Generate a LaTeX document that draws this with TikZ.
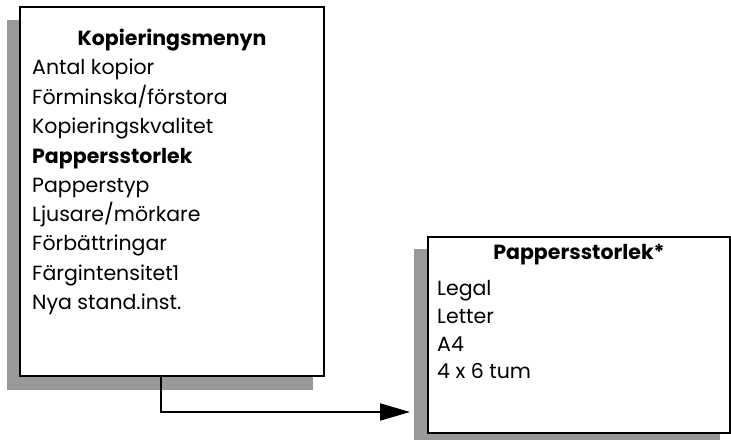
\documentclass[tikz,border=0pt]{standalone}
\usepackage{fontspec}
\setmainfont{Poppins}
\usetikzlibrary{arrows.meta,calc}
\definecolor{shadowgray}{HTML}{999999}
\tikzset{
  menubox/.style={draw=black, fill=white, line width=2.2pt},
  itemtext/.style={anchor=base west, inner sep=0pt, font=\fontsize{20.5}{24}\selectfont},
  boldtext/.style={itemtext, font=\fontsize{20.5}{24}\selectfont\bfseries},
  titletext/.style={anchor=base, inner sep=0pt, font=\fontsize{20.5}{24}\selectfont\bfseries},
  connector/.style={line width=2pt, -{Triangle[length=30pt,width=17pt]}}
}
\begin{document}
\begin{tikzpicture}[x=1pt,y=-1pt]
\useasboundingbox (0,0) rectangle (731,440);
% shadows
\fill[shadowgray] (7,20) rectangle (313,390);
\fill[shadowgray] (414,249) rectangle (720,440);
% boxes
\draw[menubox] (20,7) rectangle (324,376);
\draw[menubox] (428,237) rectangle (730,433);
\coordinate (b1) at (20,376);
\coordinate (tip) at (410,412);
% box 1 text
\node[titletext] (t1) at (172,45) {Kopieringsmenyn};
\node[itemtext] (i1) at (32,74) {Antal kopior};
\node[itemtext] (i2) at (32,104) {Förminska/förstora};
\node[itemtext] (i3) at (32,133) {Kopieringskvalitet};
\node[boldtext] (i4) at (32,163) {Pappersstorlek};
\node[itemtext] (i5) at (32,192) {Papperstyp};
\node[itemtext] (i6) at (32,221) {Ljusare/mörkare};
\node[itemtext] (i7) at (32,250) {Förbättringar};
\node[itemtext] (i8) at (32,280) {Färgintensitet1};
\node[itemtext] (i9) at (32,309) {Nya stand.inst.};
% box 2 text
\node[titletext] (t2) at (579,259) {Pappersstorlek*};
\node[itemtext] (j1) at (437,295) {Legal};
\node[itemtext] (j2) at (437,323) {Letter};
\node[itemtext] (j3) at (437,351) {A4};
\node[itemtext] (j4) at (437,378) {4 x 6 tum};
% connector
\draw[connector] ($(b1)+(141,0)$) |- (tip);
\end{tikzpicture}
\end{document}
